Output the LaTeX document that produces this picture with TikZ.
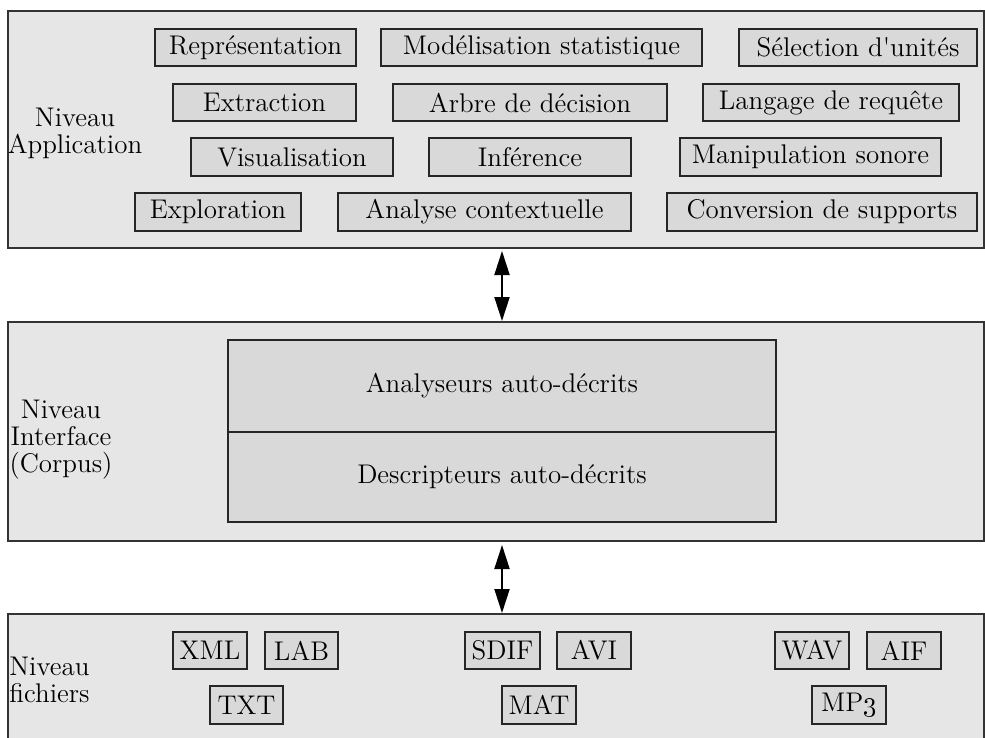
\documentclass[tikz,border=0pt]{standalone}
\usetikzlibrary{arrows.meta}

\definecolor{fondniveau}{HTML}{E6E6E6}
\definecolor{fondboite}{HTML}{D9D9D9}

\tikzset{
  niveau/.style={draw=black!80, line width=1pt, fill=fondniveau, inner sep=0pt},
  boite/.style={draw=black!85, line width=0.75pt, fill=fondboite, inner sep=0pt, minimum height=18.5pt},
  etiquette/.style={inner sep=0pt, align=center},
}

\begin{document}
\begin{tikzpicture}[x=0.5pt, y=-0.5pt, >={Triangle[length=12pt, width=7.5pt]},
    font=\fontsize{13.5}{13.5}\selectfont]
        \useasboundingbox (0,0) rectangle (985,738);

        % the three levels
        \node[niveau, minimum width=488pt, minimum height=118.5pt] (app) at (496,129.5) {};
        \node[niveau, minimum width=488pt, minimum height=109.5pt] (corpus) at (496,431.5) {};
        \node[niveau, minimum width=488pt, minimum height=73pt] (fich) at (496,687) {};

        % level names
        \node[etiquette] (lapp) at (75,133) {Niveau\\Application};
        \node[etiquette] (lcorpus) at (61,440) {Niveau\\Interface\\(Corpus)};
        \node[etiquette, align=left, anchor=west] (lfich) at (9,680) {Niveau\\fichiers};

        % application level
        \node[boite, minimum width=100.5pt] (repr) at (255.5,47.5) {Représentation};
        \node[boite, minimum width=160.5pt] (modstat) at (541.5,47.5) {Modélisation statistique};
        \node[boite, minimum width=119pt] (selunit) at (858,47.5) {Sélection d\textquotesingle unités};
        \node[boite, minimum width=91.5pt] (extr) at (264.5,102.5) {Extraction};
        \node[boite, minimum width=137pt] (arbre) at (530,102.5) {Arbre de décision};
        \node[boite, minimum width=128pt] (langage) at (831,102.5) {Langage de requête};
        \node[boite, minimum width=101pt, minimum height=19pt] (visu) at (292,157) {Visualisation};
        \node[boite, minimum width=101pt, minimum height=19pt] (infer) at (530,157) {Inférence};
        \node[boite, minimum width=130.5pt, minimum height=19pt] (manip) at (810.5,157) {Manipulation sonore};
        \node[boite, minimum width=83pt, minimum height=19pt] (explo) at (218,212) {Exploration};
        \node[boite, minimum width=146.5pt, minimum height=19pt] (analyse) at (484.5,212) {Analyse contextuelle};
        \node[boite, minimum width=155pt, minimum height=19pt] (conv) at (822,212) {Conversion de supports};

        % interface level
        \node[boite, line width=1pt, minimum width=274pt, minimum height=46pt] (analy) at (502,386) {Analyseurs auto-décrits};
        \node[boite, line width=1pt, minimum width=274pt, minimum height=45pt] (descr) at (502,477) {Descripteurs auto-décrits};

        % file level
        \node[boite, minimum width=37pt] (xml) at (210,650.5) {XML};
        \node[boite, minimum width=36.5pt] (lab) at (301.5,650.5) {LAB};
        \node[boite, minimum width=36.5pt, minimum height=19pt] (txt) at (246.5,705) {TXT};
        \node[boite, minimum width=37.5pt] (sdif) at (502.5,650.5) {SDIF};
        \node[boite, minimum width=37pt] (avi) at (594,650.5) {AVI};
        \node[boite, minimum width=37pt, minimum height=19pt] (mat) at (539,705) {MAT};
        \node[boite, minimum width=37pt] (wav) at (812,650.5) {WAV};
        \node[boite, minimum width=37pt] (aif) at (904,650.5) {AIF};
        \node[boite, minimum width=37pt, minimum height=19pt] (mp3) at (849,705) {MP\oldstylenums{3}};

        % links between levels
        \draw[<->, line width=1pt, shorten <=1pt] (app.south -| analy.center) -- (corpus.north -| analy.center);
        \draw[<->, line width=1pt, shorten <=1.5pt] (corpus.south -| analy.center) -- (fich.north -| analy.center);
    \end{tikzpicture}
\end{document}
